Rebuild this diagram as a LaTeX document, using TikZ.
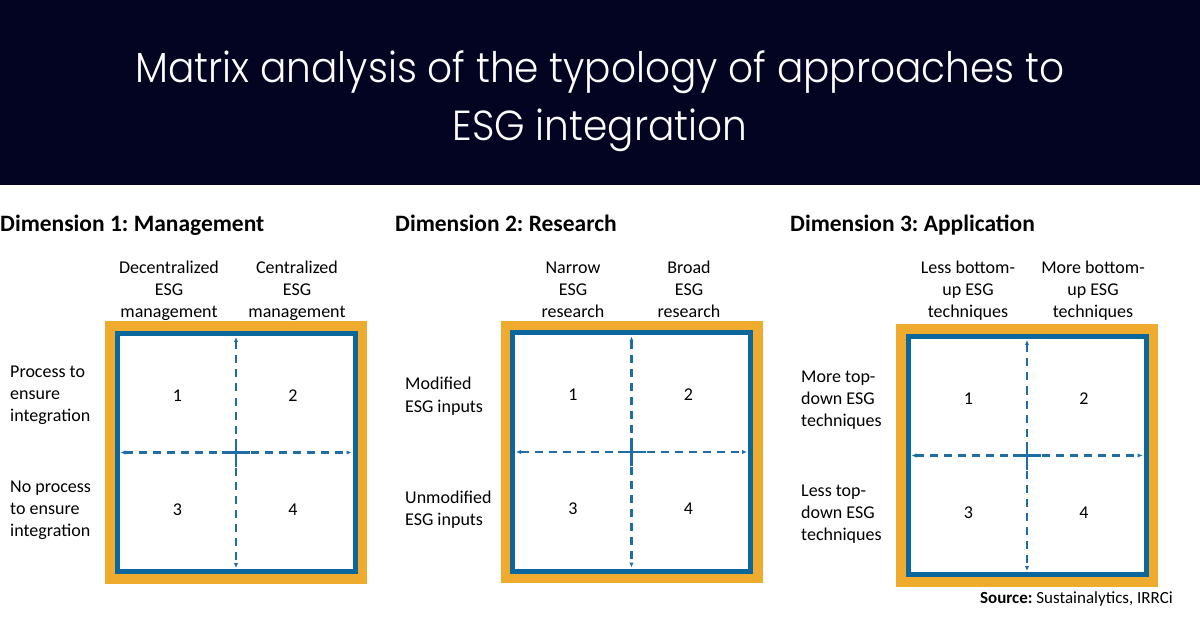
\documentclass[tikz,border=0pt]{standalone}
\usepackage{fontspec}
\setmainfont{Carlito}
\newfontfamily\titlefont{Poppins}[UprightFont={* Light}]
\usetikzlibrary{arrows.meta,positioning}
\frenchspacing
\definecolor{esgnavy}{RGB}{3,4,34}
\definecolor{esgorange}{RGB}{239,171,45}
\definecolor{esgblue}{RGB}{12,104,156}
\definecolor{esgaxis}{RGB}{30,110,165}
\tikzset{
    title text/.style={
        anchor=base,
        inner sep=0pt,
        text=white,
        font=\titlefont\fontsize{42}{58}\selectfont
    },
    dim title/.style={
        anchor=base west,
        inner sep=0pt,
        font=\fontsize{23.5}{28}\selectfont\bfseries
    },
    axis label/.style={
        align=center,
        inner sep=0pt,
        font=\fontsize{18}{22}\selectfont
    },
    row label/.style={
        anchor=west,
        align=left,
        inner sep=0pt,
        font=\fontsize{18}{22}\selectfont
    },
    quad num/.style={inner sep=0pt, font=\fontsize{18}{22}\selectfont},
    matrix frame/.style={fill=esgorange, minimum size=262pt, inner sep=0pt, outer sep=0pt},
    matrix box/.style={draw=esgblue, line width=5pt, fill=white, minimum size=238pt, inner sep=0pt, outer sep=0pt},
    matrix axis/.style={{Latex[length=5pt,width=4.5pt]}-{Latex[length=5pt,width=4.5pt]}, esgaxis, line width=2.3pt, dash pattern=on 8pt off 6pt, shorten <=3.5pt, shorten >=3.5pt},
    matrix cross/.style={esgaxis, line width=2.8pt}
}
\begin{document}
\begin{tikzpicture}[x=1pt,y=-1pt]
    \useasboundingbox (0,0) rectangle (1200,628);
    \fill[white] (0,0) rectangle (1200,628);
    \fill[esgnavy] (0,0) rectangle (1200,185);

    \node[title text] (title1) at (600,83) {\scalebox{0.93}[1]{Matrix analysis of the typology of approaches to}};
    \node[title text] (title2) at (600,141) {\scalebox{0.93}[1]{ESG integration}};

    \node[dim title] (dim1) at (0,232) {Dimension 1: Management};
    \node[dim title] (dim2) at (395,232) {Dimension 2: Research};
    \node[dim title] (dim3) at (790,232) {Dimension 3: Application};

    % the three matrices
    \foreach \i/\cx/\cy in {1/236/452.5, 2/631.5/452, 3/1027/455.5} {
        \node[matrix frame] (frame\i) at (\cx,\cy) {};
        \node[matrix box] (box\i) at (\cx,\cy) {};
        \draw[matrix axis] (box\i.west) -- (box\i.east);
        \draw[matrix axis] (box\i.north) -- (box\i.south);
        \draw[matrix cross] ([xshift=-14pt]box\i.center) -- ([xshift=14pt]box\i.center);
        \draw[matrix cross] ([yshift=-14pt]box\i.center) -- ([yshift=14pt]box\i.center);
        \foreach \q/\dx/\dy in {1/-58.5/-57, 2/57/-57, 3/-58.5/57, 4/57/57}
            \node[quad num] (q\i-\q) at ([shift={(\dx,\dy)}]box\i.center) {\q};
    }

    \node[axis label] (col1a) at (169,291.6) {\strut Decentralized\\ESG\\management\strut};
    \node[axis label] (col1b) at (297,291.6) {\strut Centralized\\ESG\\management\strut};
    \node[row label] (row1a) at (10,394.6) {\strut Process to\\ensure\\integration\strut};
    \node[row label] (row1b) at (10,509.6) {\strut No process\\to ensure\\integration\strut};

    \node[axis label] (col2a) at (573,291.6) {\strut Narrow\\ESG\\research\strut};
    \node[axis label] (col2b) at (689,291.6) {\strut Broad\\ESG\\research\strut};
    \node[row label] (row2a) at (405,396.6) {\strut Modified\\ESG inputs\strut};
    \node[row label] (row2b) at (405,509.6) {\strut Unmodified\\ESG inputs\strut};

    \node[axis label] (col3a) at (968,291.6) {\strut Less bottom-\\up ESG\\techniques\strut};
    \node[axis label] (col3b) at (1093,291.6) {\strut More bottom-\\up ESG\\techniques\strut};
    \node[row label] (row3a) at (801,399.6) {\strut More top-\\down ESG\\techniques\strut};
    \node[row label] (row3b) at (801,513.6) {\strut Less top-\\down ESG\\techniques\strut};

    \node[anchor=base east, inner sep=0pt, font=\fontsize{17}{20}\selectfont] (source) at (1173,603) {\textbf{Source:} Sustainalytics, IRRCi};
\end{tikzpicture}
\end{document}
